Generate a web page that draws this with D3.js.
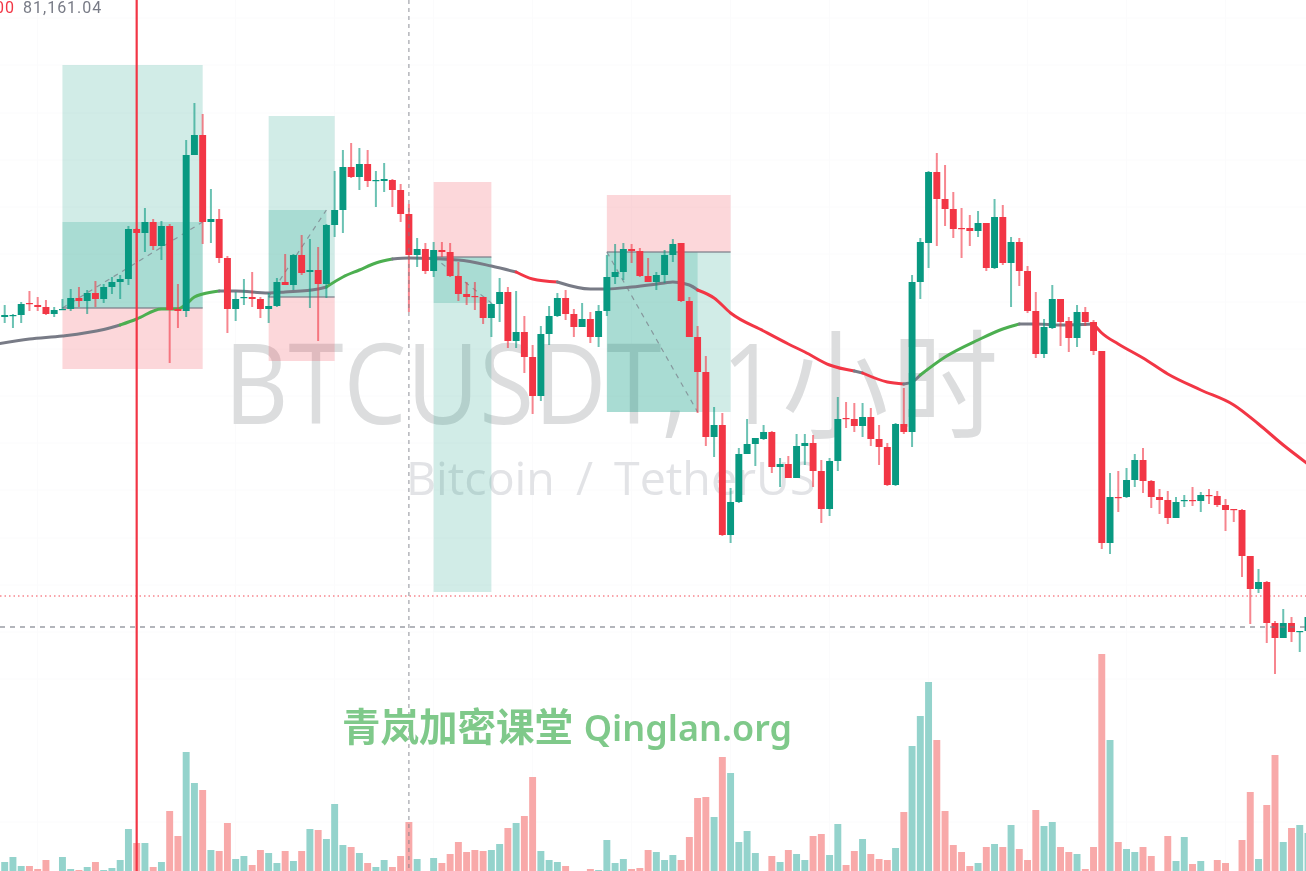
<!DOCTYPE html>
<html>
<head>
<meta charset="utf-8">
<script src="https://cdn.jsdelivr.net/npm/d3@7"></script>
<style>
html, body { margin: 0; padding: 0; background: #fff; overflow: hidden; }
svg { display: block; filter: blur(0.6px); }
</style>
</head>
<body>
<div class="chart"></div>
<script>
// BTCUSDT 1h candles
const open = [
80830,80840,80850,80970,80950,80930,80860,80900,80910,81020,
80990,81070,81010,81130,81180,81210,81710,81670,81780,81540,
81740,80910,80890,82450,82650,81780,81810,81420,80910,81020,
81030,81010,80910,80940,81180,81150,81450,81280,81300,81160,
81750,81900,82330,82230,82360,82190,82190,82200,82100,81860,
81450,81510,81290,81500,81480,81240,81060,81040,81030,80820,
80960,81080,80590,80680,80430,80040,80660,80840,81020,80860,
80730,80810,80630,80890,81230,81280,81510,81490,81240,81180,
81250,81450,81570,80990,80630,80280,79630,79750,78650,78980,
79460,79560,79610,79680,79330,79360,79220,79540,79570,79290,
78910,79390,79820,79810,79740,79830,79610,79530,79150,79760,
79680,81180,81570,82280,82010,81910,81720,81720,81690,81770,
81320,81830,81370,81580,81290,80890,80460,80720,81010,80790,
80620,80880,80780,80490,78570,79030,79030,79200,79400,79190,
79030,79000,78820,78990,79000,78990,79050,79040,78950,78910,
78900,78440,78110,78180,77770,77620,77770,77680,77690];
const close = [
80850,80850,80960,80960,80930,80860,80900,80910,81020,80990,
81070,81010,81130,81180,81210,81710,81670,81780,81540,81740,
80900,80890,82450,82650,81780,81810,81420,80910,81010,81030,
81010,80910,80940,81180,81150,81450,81270,81300,81160,81750,
81900,82330,82230,82360,82190,82200,82210,82100,81860,81450,
81510,81290,81500,81480,81240,81060,81030,81030,80820,80960,
81080,80590,80680,80430,80040,80660,80840,81020,80860,80730,
80810,80630,80890,81230,81280,81510,81490,81240,81180,81250,
81450,81560,80990,80630,80280,79630,79750,78650,78980,79460,
79560,79620,79680,79330,79360,79220,79540,79570,79290,78910,
79390,79810,79810,79740,79830,79610,79530,79150,79760,79680,
81180,81580,82280,82010,81910,81710,81710,81690,81770,81320,
81830,81370,81580,81290,80890,80460,80730,81010,80780,80620,
80880,80780,80490,78570,79030,79020,79200,79400,79190,79030,
79000,78820,78980,79000,78990,79050,79040,78950,78900,78900,
78440,78110,78180,77770,77620,77770,77680,77690,77830];
const high = [
80950,80860,80980,81090,81030,81000,80930,81010,81110,81130,
81100,81190,81160,81230,81250,81740,81720,81920,81810,81790,
81760,81160,82600,82970,82860,82110,81910,81440,81080,81210,
81280,81030,81070,81220,81460,81460,81650,81610,81530,81760,
82290,82500,82570,82520,82500,82290,82370,82210,82160,81960,
81620,81570,81580,81580,81570,81380,81180,81180,81030,80970,
81220,81130,81090,80840,80550,80740,80940,81070,81100,80910,
80970,80880,80950,81450,81560,81570,81560,81520,81420,81280,
81500,81610,81570,81030,80740,80440,79930,79870,79120,79520,
79810,79620,79750,79690,79420,79440,79660,79660,79650,79400,
79420,80030,79980,79970,79970,79920,79750,79570,79770,80120,
81250,81620,82290,82470,82350,82080,81920,81850,81890,81770,
82010,81950,81630,81620,81340,81080,80810,81150,81010,80830,
80950,80930,80800,80490,79270,79290,79320,79460,79520,79200,
79110,79090,79030,79050,79130,79080,79110,79090,79010,78910,
78910,78440,78310,78190,77790,77910,77830,77690,77900];
const low = [
80770,80720,80770,80890,80890,80850,80830,80900,80890,80930,
80860,80930,80970,81060,81010,81150,81380,81480,81500,81400,
80370,80720,80830,82450,81560,81570,81370,80670,80790,80950,
80930,80820,80770,80930,81150,81100,81250,80920,80590,81020,
81630,81670,82220,82100,82130,81930,82080,81930,81780,80880,
81330,81260,81230,81430,81230,80990,80950,80900,80760,80630,
80780,80520,80520,80270,79860,79990,80550,80830,80800,80630,
80730,80570,80530,80840,81160,81200,81370,81230,81180,81100,
81170,81380,80980,80630,79870,79540,79430,78640,78570,78970,
79460,79340,79600,79270,79130,79220,79220,79350,79130,78770,
78840,79290,79720,79680,79630,79540,79350,79140,79140,79660,
79530,81010,81320,81540,81740,81620,81420,81540,81630,81290,
81310,81350,80930,81140,80870,80420,80420,80710,80540,80480,
80530,80740,80450,78510,78460,78880,79020,79130,79070,78920,
78860,78760,78820,78930,78940,78880,78960,78930,78690,78780,
78230,77760,78070,77570,77260,77620,77580,77480,77500];
const volume = [
130,180,90,90,60,150,30,180,60,50,
80,130,50,70,150,460,320,320,80,130,
640,390,1230,920,850,250,240,520,160,190,
100,250,220,120,240,140,240,460,450,360,
710,300,280,220,120,80,150,80,190,530,
160,0,170,120,210,330,230,250,240,250,
310,470,520,590,980,240,150,130,90,0,
0,60,50,350,120,160,60,70,250,230,
150,200,150,380,770,780,580,1180,1020,330,
440,220,0,190,130,250,210,150,390,410,
200,510,100,240,360,210,160,150,270,630,
1290,1590,1930,1350,640,300,230,90,120,280,
310,280,500,260,150,650,490,530,280,230,
210,60,280,2210,1350,330,260,230,280,190,
0,390,140,380,110,140,0,150,120,0,
350,830,160,700,1200,330,470,500,420];

// moving average, read at these bars
const maBar = [-1,3,7,12,14,16,19,21,22,23,24,26,28,32,34,38,39,41,43,45,47,49,55,59,62,64,67,71,73,76,80,81,83,84,86,88,92,95,97,100,103,104,107,109,110,111,114,118,121,123,125,128,132,133,135,138,141,145,149,152,155,158];
const maValue = [80560,80610,80640,80705,80750,80810,80910,80910,80960,81030,81060,81090,81090,81070,81080,81110,81130,81230,81300,81370,81410,81420,81400,81340,81280,81210,81180,81110,81110,81130,81170,81180,81150,81100,81020,80870,80690,80560,80480,80350,80290,80270,80180,80160,80180,80250,80430,80600,80710,80760,80760,80750,80760,80670,80560,80420,80260,80100,79950,79760,79550,79360];
const maSegStart = [-1,14,26,39,47,62,67,84,103,104,109,111,123,132];
const maSegColor = ['#787b86','#4caf50','#787b86','#4caf50','#787b86','#f23645','#787b86','#f23645','#787b86','#f23645','#787b86','#4caf50','#787b86','#f23645'];

// long and short position boxes
const posStart = [7,32,52,73];
const posEnd = [24,40,59,88];
const posProgressEnd = [24,39,59,84];
const posEntry = [80920,81030,81430,81480];
const posTarget = [83350,82840,78080,79880];
const posStop = [80310,80390,82180,82050];
const posProgress = [81780,81900,80970,79880];

const gridBars = [4,16,28,40,52,64,76,88,100,112,124,136,148];
const gridPrices = [83820,83350,82870,82400,81930,81460,80980,80510,80040,79570,79100,78620,78150,77680,77210,75780];

const crosshairBar = 49;
const markerBar = 16;
const lastPrice = 77730;
const alertPrice = 78040;

const width = 1306;
const height = 871;
const green = '#089981';
const red = '#f23645';

const x = d3.scaleLinear().domain([0,158]).range([4.7,1308]);
const y = d3.scaleLinear().domain([84000,75290]).range([0,871]);
const yVol = d3.scaleLinear().domain([0,2210]).range([875,654]);
const barW = (x(1)-x(0))*0.84;

const candles = open.map((o,i)=>({i:i, open:o, close:close[i], high:high[i], low:low[i], volume:volume[i], up:close[i]>=o}));

const svg = d3.select('.chart')
    .append('svg')
    .attr('width', width)
    .attr('height', height);

// grid
svg.selectAll('line.gridx')
    .data(gridBars)
    .enter()
    .append('line')
    .attr('class','gridx')
    .attr('x1', d=>x(d))
    .attr('x2', d=>x(d))
    .attr('y1', 0)
    .attr('y2', height)
    .attr('stroke','#fbfbfc');
svg.selectAll('line.gridy')
    .data(gridPrices)
    .enter()
    .append('line')
    .attr('class','gridy')
    .attr('x1', 0)
    .attr('x2', width)
    .attr('y1', d=>y(d))
    .attr('y2', d=>y(d))
    .attr('stroke','#fbfbfc');

// watermark, the latin part is narrower than Open Sans so squeeze it
const mark = svg.append('text')
    .attr('transform','translate(224,424) scale(0.9,1)')
    .attr('font-family','"Open Sans", "Noto Sans CJK SC", sans-serif')
    .attr('font-size', 111)
    .attr('fill','#dcddde');
mark.append('tspan').text('BTCUSDT, ');
mark.append('tspan').attr('dx', 9).text('1');
mark.append('tspan')
    .attr('font-size', 118)
    .attr('letter-spacing', 4)
    .attr('dx', 4)
    .attr('dy', 5)
    .text('小时');
svg.append('text')
    .attr('x', 406)
    .attr('y', 495)
    .attr('font-family','"Open Sans", sans-serif')
    .attr('font-size', 46.5)
    .attr('word-spacing', 9)
    .attr('fill','#e2e3e6')
    .text('Bitcoin / TetherUS');

// position boxes
posStart.forEach((s,i)=>{
    const bx = x(s);
    const bw = x(posEnd[i])-x(s);
    const box = svg.append('g');
    box.append('rect')
        .attr('x', bx)
        .attr('width', bw)
        .attr('y', Math.min(y(posEntry[i]),y(posTarget[i])))
        .attr('height', Math.abs(y(posEntry[i])-y(posTarget[i])))
        .attr('fill','rgba(8,153,129,0.19)');
    box.append('rect')
        .attr('x', bx)
        .attr('width', bw)
        .attr('y', Math.min(y(posEntry[i]),y(posStop[i])))
        .attr('height', Math.abs(y(posEntry[i])-y(posStop[i])))
        .attr('fill','rgba(242,54,69,0.2)');
    box.append('rect')
        .attr('x', bx)
        .attr('width', x(posProgressEnd[i])-x(s))
        .attr('y', Math.min(y(posEntry[i]),y(posProgress[i])))
        .attr('height', Math.abs(y(posEntry[i])-y(posProgress[i])))
        .attr('fill','rgba(8,153,129,0.2)');
    box.append('line')
        .attr('x1', bx)
        .attr('x2', bx+bw)
        .attr('y1', y(posEntry[i]))
        .attr('y2', y(posEntry[i]))
        .attr('stroke','#787b86')
        .attr('stroke-opacity',0.8)
        .attr('stroke-width',1.3);
    box.append('line')
        .attr('x1', bx)
        .attr('x2', x(posProgressEnd[i]))
        .attr('y1', y(posEntry[i]))
        .attr('y2', y(posProgress[i]))
        .attr('stroke','#787b86')
        .attr('stroke-opacity',0.7)
        .attr('stroke-width',1.2)
        .attr('stroke-dasharray','5 5');
});

// volume
svg.selectAll('rect.vol')
    .data(candles)
    .enter()
    .append('rect')
    .attr('class','vol')
    .attr('x', d=>x(d.i)-barW/2)
    .attr('width', barW)
    .attr('y', d=>yVol(d.volume))
    .attr('height', d=>yVol(0)-yVol(d.volume))
    .attr('fill', d=>d.up ? '#94d3cc' : '#f8a9a9');

// moving average
const maLine = d3.line()
    .x(d=>x(d.bar))
    .y(d=>y(d.value))
    .curve(d3.curveMonotoneX);
const maPoints = maBar.map((b,i)=>({bar:b, value:maValue[i]}));
maSegStart.forEach((s,i)=>{
    const end = i<maSegStart.length-1 ? maSegStart[i+1] : 158;
    svg.append('path')
        .attr('d', maLine(maPoints.filter(p=>p.bar>=s && p.bar<=end)))
        .attr('fill','none')
        .attr('stroke', maSegColor[i])
        .attr('stroke-width',3)
        .attr('stroke-linecap','round');
});

// candles
svg.selectAll('line.wick')
    .data(candles)
    .enter()
    .append('line')
    .attr('class','wick')
    .attr('x1', d=>x(d.i))
    .attr('x2', d=>x(d.i))
    .attr('y1', d=>y(d.high))
    .attr('y2', d=>y(d.low))
    .attr('stroke', d=>d.up ? green : red)
    .attr('stroke-opacity',0.6)
    .attr('stroke-width',2);
svg.selectAll('rect.body')
    .data(candles)
    .enter()
    .append('rect')
    .attr('class','body')
    .attr('x', d=>x(d.i)-barW/2)
    .attr('width', barW)
    .attr('y', d=>y(Math.max(d.open,d.close)))
    .attr('height', d=>Math.max(1.2,Math.abs(y(d.open)-y(d.close))))
    .attr('fill', d=>d.up ? green : red);

// level lines and crosshair
svg.append('line')
    .attr('x1',0).attr('x2',width)
    .attr('y1',y(alertPrice)).attr('y2',y(alertPrice))
    .attr('stroke',red)
    .attr('stroke-opacity',0.6)
    .attr('stroke-width',1.3)
    .attr('stroke-dasharray','1.5 3');
svg.append('line')
    .attr('x1',0).attr('x2',width)
    .attr('y1',y(lastPrice)).attr('y2',y(lastPrice))
    .attr('stroke','#787b86')
    .attr('stroke-opacity',0.75)
    .attr('stroke-width',1.3)
    .attr('stroke-dasharray','5 5');
svg.append('line')
    .attr('x1',x(crosshairBar)).attr('x2',x(crosshairBar))
    .attr('y1',0).attr('y2',height)
    .attr('stroke','#787b86')
    .attr('stroke-opacity',0.65)
    .attr('stroke-width',1.3)
    .attr('stroke-dasharray','4 4');
svg.append('line')
    .attr('x1',x(markerBar)).attr('x2',x(markerBar))
    .attr('y1',0).attr('y2',height)
    .attr('stroke',red)
    .attr('stroke-width',2.2);

// site title
const title = svg.append('text')
    .attr('x', 342)
    .attr('y', 741)
    .attr('font-size', 38.5)
    .attr('font-weight', 700)
    .attr('fill','#7fc98a')
    .attr('font-family','"Noto Sans CJK SC", sans-serif');
title.append('tspan').text('青岚加密课堂 ');
title.append('tspan')
    .attr('font-family','"Noto Sans", sans-serif')
    .attr('font-weight', 600)
    .attr('font-size', 36)
    .attr('dx', 2)
    .text('Qinglan.org');

// legend at the top, the picture only shows the tail of the first value
svg.append('text')
    .attr('x', 15)
    .attr('y', 13)
    .attr('text-anchor','end')
    .attr('font-family','Roboto, sans-serif')
    .attr('font-size', 16)
    .attr('letter-spacing', 1)
    .attr('fill',red)
    .text('00');
svg.append('text')
    .attr('x', 23)
    .attr('y', 13)
    .attr('font-family','Roboto, sans-serif')
    .attr('font-size', 16)
    .attr('letter-spacing', 1)
    .attr('fill','#787b86')
    .text('81,161.04');
</script>
</body>
</html>
